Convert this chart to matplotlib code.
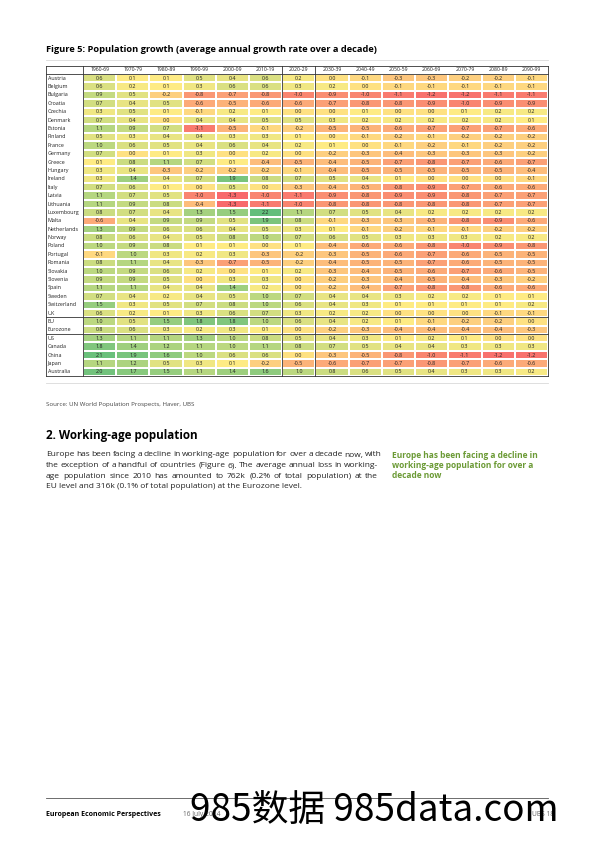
import numpy as np
import matplotlib.pyplot as plt
from matplotlib.colors import LinearSegmentedColormap, TwoSlopeNorm

plt.rcParams['font.family'] = ['Open Sans', 'DejaVu Sans']

# ** data: average annual population growth per decade (%) **
decades = ['1960-69', '1970-79', '1980-89', '1990-99', '2000-09', '2010-19', '2020-29',
           '2030-39', '2040-49', '2050-59', '2060-69', '2070-79', '2080-89', '2090-99']

countries = ['Austria', 'Belgium', 'Bulgaria', 'Croatia', 'Czechia', 'Denmark', 'Estonia',
             'Finland', 'France', 'Germany', 'Greece', 'Hungary', 'Ireland', 'Italy', 'Latvia',
             'Lithuania', 'Luxembourg', 'Malta', 'Netherlands', 'Norway', 'Poland', 'Portugal',
             'Romania', 'Slovakia', 'Slovenia', 'Spain', 'Sweden', 'Switzerland', 'UK',
             'EU', 'Eurozone', 'US', 'Canada', 'China', 'Japan', 'Australia']

growth = np.array([
    [0.6, 0.1, 0.1, 0.5, 0.4, 0.6, 0.2, 0.0, -0.1, -0.3, -0.3, -0.2, -0.2, -0.1],
    [0.6, 0.2, 0.1, 0.3, 0.6, 0.6, 0.3, 0.2, 0.0, -0.1, -0.1, -0.1, -0.1, -0.1],
    [0.9, 0.5, -0.2, -0.8, -0.7, -0.8, -1.0, -0.9, -1.0, -1.1, -1.2, -1.2, -1.1, -1.1],
    [0.7, 0.4, 0.5, -0.6, -0.5, -0.6, -0.6, -0.7, -0.8, -0.8, -0.9, -1.0, -0.9, -0.9],
    [0.3, 0.5, 0.1, -0.1, 0.2, 0.1, 0.0, 0.0, 0.1, 0.0, 0.0, 0.1, 0.2, 0.2],
    [0.7, 0.4, 0.0, 0.4, 0.4, 0.5, 0.5, 0.3, 0.2, 0.2, 0.2, 0.2, 0.2, 0.1],
    [1.1, 0.9, 0.7, -1.1, -0.5, -0.1, -0.2, -0.5, -0.5, -0.6, -0.7, -0.7, -0.7, -0.6],
    [0.5, 0.3, 0.4, 0.4, 0.3, 0.3, 0.1, 0.0, -0.1, -0.2, -0.1, -0.2, -0.2, -0.2],
    [1.0, 0.6, 0.5, 0.4, 0.6, 0.4, 0.2, 0.1, 0.0, -0.1, -0.2, -0.1, -0.2, -0.2],
    [0.7, 0.0, 0.1, 0.3, 0.0, 0.2, 0.0, -0.2, -0.3, -0.4, -0.3, -0.3, -0.3, -0.2],
    [0.1, 0.8, 1.1, 0.7, 0.1, -0.4, -0.5, -0.4, -0.5, -0.7, -0.8, -0.7, -0.6, -0.7],
    [0.3, 0.4, -0.3, -0.2, -0.2, -0.2, -0.1, -0.4, -0.5, -0.5, -0.5, -0.5, -0.5, -0.4],
    [0.3, 1.4, 0.4, 0.7, 1.9, 0.8, 0.7, 0.5, 0.4, 0.1, 0.0, 0.0, 0.0, -0.1],
    [0.7, 0.6, 0.1, 0.0, 0.5, 0.0, -0.3, -0.4, -0.5, -0.8, -0.9, -0.7, -0.6, -0.6],
    [1.1, 0.7, 0.5, -1.0, -1.3, -1.0, -1.1, -0.9, -0.8, -0.9, -0.9, -0.8, -0.7, -0.7],
    [1.1, 0.9, 0.8, -0.4, -1.3, -1.1, -1.0, -0.8, -0.8, -0.8, -0.8, -0.8, -0.7, -0.7],
    [0.8, 0.7, 0.4, 1.3, 1.5, 2.2, 1.1, 0.7, 0.5, 0.4, 0.2, 0.2, 0.2, 0.2],
    [-0.6, 0.4, 0.9, 0.9, 0.5, 1.9, 0.8, -0.1, -0.3, -0.3, -0.5, -0.8, -0.9, -0.6],
    [1.3, 0.9, 0.6, 0.6, 0.4, 0.5, 0.3, 0.1, -0.1, -0.2, -0.1, -0.1, -0.2, -0.2],
    [0.8, 0.6, 0.4, 0.5, 0.8, 1.0, 0.7, 0.6, 0.5, 0.3, 0.3, 0.3, 0.2, 0.2],
    [1.0, 0.9, 0.8, 0.1, 0.1, 0.0, 0.1, -0.4, -0.6, -0.6, -0.8, -1.0, -0.9, -0.8],
    [-0.1, 1.0, 0.3, 0.2, 0.3, -0.3, -0.2, -0.3, -0.5, -0.6, -0.7, -0.6, -0.5, -0.5],
    [0.8, 1.1, 0.4, -0.3, -0.7, -0.5, -0.2, -0.4, -0.5, -0.5, -0.7, -0.6, -0.5, -0.5],
    [1.0, 0.9, 0.6, 0.2, 0.0, 0.1, 0.2, -0.3, -0.4, -0.5, -0.6, -0.7, -0.6, -0.5],
    [0.9, 0.9, 0.5, 0.0, 0.3, 0.3, 0.0, -0.2, -0.3, -0.4, -0.5, -0.4, -0.3, -0.2],
    [1.1, 1.1, 0.4, 0.4, 1.4, 0.2, 0.0, -0.2, -0.4, -0.7, -0.8, -0.8, -0.6, -0.6],
    [0.7, 0.4, 0.2, 0.4, 0.5, 1.0, 0.7, 0.4, 0.4, 0.3, 0.2, 0.2, 0.1, 0.1],
    [1.5, 0.3, 0.5, 0.7, 0.8, 1.0, 0.6, 0.4, 0.3, 0.1, 0.1, 0.1, 0.1, 0.2],
    [0.6, 0.2, 0.1, 0.3, 0.6, 0.7, 0.3, 0.2, 0.2, 0.0, 0.0, 0.0, -0.1, -0.1],
    [1.0, 0.5, 1.5, 1.8, 1.8, 1.0, 0.6, 0.4, 0.2, 0.1, -0.1, -0.2, -0.2, 0.0],
    [0.8, 0.6, 0.3, 0.2, 0.3, 0.1, 0.0, -0.2, -0.3, -0.4, -0.4, -0.4, -0.4, -0.3],
    [1.3, 1.1, 1.1, 1.3, 1.0, 0.8, 0.5, 0.4, 0.3, 0.1, 0.2, 0.1, 0.0, 0.0],
    [1.8, 1.4, 1.2, 1.1, 1.0, 1.1, 0.8, 0.7, 0.5, 0.4, 0.4, 0.3, 0.3, 0.3],
    [2.1, 1.9, 1.6, 1.0, 0.6, 0.6, 0.0, -0.3, -0.5, -0.8, -1.0, -1.1, -1.2, -1.2],
    [1.1, 1.2, 0.5, 0.3, 0.1, -0.2, -0.5, -0.6, -0.7, -0.7, -0.8, -0.7, -0.6, -0.6],
    [2.0, 1.7, 1.5, 1.1, 1.4, 1.6, 1.0, 0.8, 0.6, 0.5, 0.4, 0.3, 0.3, 0.2],
])

paragraph = [
    'Europe has been facing a decline in working-age population for over a decade now, with',
    'the exception of a handful of countries (Figure 6). The average annual loss in working-',
    'age population since 2010 has amounted to 762k (0.2% of total population) at the',
    'EU level and 316k (0.1% of total population) at the Eurozone level.',
]
sidebar = ['Europe has been facing a decline in',
           'working-age population for over a',
           'decade now']

W, H = 595, 842
fig = plt.figure(figsize=(W / 100, H / 100), dpi=100)


def fx(px):
    return px / W


def fy(py):
    return 1 - py / H


# ** heat map table **
n_rows, n_cols = growth.shape
ax = fig.add_axes([fx(83), fy(376), fx(548) - fx(83), fy(74) - fy(376)])
cmap = LinearSegmentedColormap.from_list('ryg', ['#F8696B', '#FFEB84', '#63BE7B'])
norm = TwoSlopeNorm(vmin=growth.min(), vcenter=np.median(growth), vmax=growth.max())
ax.pcolormesh(np.arange(n_cols + 1) - 0.5, np.arange(n_rows + 1) - 0.5, growth,
              cmap=cmap, norm=norm, edgecolors='white', linewidth=0.2)
ax.set_xlim(-0.5, n_cols - 0.5)
ax.set_ylim(n_rows - 0.5, -0.5)
ax.axis('off')

for i in range(n_rows):
    for j in range(n_cols):
        ax.text(j, i, f'{growth[i, j]:.1f}', ha='center', va='center',
                fontsize=3.9, color='#222222')
    ax.text(-1.56, i, countries[i], ha='left', va='center', fontsize=3.9,
            color='#222222', clip_on=False)
for j, d in enumerate(decades):
    ax.text(j, -1.0, d, ha='center', va='center', fontsize=3.7, color='#222222', clip_on=False)

left = -1.61
lw = 0.6
for x in [left, -0.5, 5.5, 6.5, n_cols - 0.5]:
    ax.plot([x, x], [-1.5, n_rows - 0.5], color='#333333', lw=lw, clip_on=False)
for y in [-1.5, -0.5, 28.5, 30.5, n_rows - 0.5]:
    ax.plot([left, n_cols - 0.5], [y, y], color='#333333', lw=lw, clip_on=False)

# ** page text **
fig.text(fx(46), fy(50), 'Figure 5: Population growth (average annual growth rate over a decade)',
         fontsize=6.7, fontweight='bold', va='center')
fig.add_artist(plt.Line2D([fx(46), fx(548)], [fy(60), fy(60)], color='#d9d9d9', lw=0.6))
fig.add_artist(plt.Line2D([fx(46), fx(548)], [fy(383), fy(383)], color='#d9d9d9', lw=0.6))
fig.text(fx(46), fy(404), 'Source: UN World Population Prospects, Haver, UBS',
         fontsize=4.4, color='#444444', va='center')

fig.text(fx(46), fy(436), '2. Working-age population', fontsize=8.4, fontweight='bold', va='center')

# justified paragraph, word by word
renderer = fig.canvas.get_renderer()
x0, x1 = 46, 378
psize = 6.0
for k, line in enumerate(paragraph):
    y = fy(455 + k * 10.6)
    if k == len(paragraph) - 1:
        fig.text(fx(x0), y, line, fontsize=psize, va='center', color='#222222')
        continue
    words = line.split()
    texts = [fig.text(0, y, w, fontsize=psize, va='center', color='#222222') for w in words]
    widths = [t.get_window_extent(renderer).width for t in texts]
    gap = max((x1 - x0 - sum(widths)) / (len(words) - 1), 1.6)
    pos = x0
    for t, wd in zip(texts, widths):
        t.set_x(fx(pos))
        pos += wd + gap

for k, line in enumerate(sidebar):
    fig.text(fx(392), fy(455 + k * 10.3), line, fontsize=6, fontweight='bold',
             color='#6b9a35', va='center')

# ** footer **
fig.add_artist(plt.Line2D([fx(46), fx(548)], [fy(798), fy(798)], color='#555555', lw=0.6))
fig.text(fx(46), fy(814), 'European Economic Perspectives', fontsize=5, fontweight='bold', va='center')
fig.text(fx(183), fy(814), '16 July 2024', fontsize=4.8, color='#666666', va='center')
fig.text(fx(532), fy(814), 'UBS 18', fontsize=4.8, color='#666666', va='center')
fig.text(fx(190), fy(821), '985数据 985data.com', fontsize=26.5, color='black', va='baseline',
         family=['Noto Sans CJK SC', 'DejaVu Sans'])

fig.savefig('out.png', dpi=100)
